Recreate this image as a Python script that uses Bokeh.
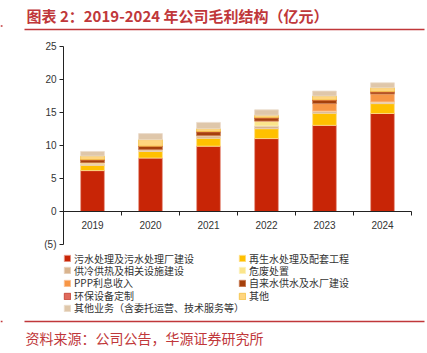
from bokeh.plotting import figure
from bokeh.models import (Range1d, LinearAxis, FixedTicker,
                          Legend, LegendItem, ColumnDataSource)
from bokeh.embed import file_html
from bokeh.resources import INLINE
from bokeh.core.properties import value

# ---------------- data (亿元) ----------------
years = ["2019", "2020", "2021", "2022", "2023", "2024"]
sewage     = [6.2, 8.1, 9.9, 11.05, 13.05, 14.85]   # 污水处理及污水处理厂建设
reclaimed  = [0.8, 1.0, 1.2, 1.5, 1.85, 1.5]        # 再生水处理及配套工程
heating    = [0.2, 0.25, 0.35, 0.4, 0.3, 0.25]      # 供冷供热及相关设施建设
hazardous  = [0.2, 0.05, 0.05, 0.75, 0.0, 0.0]      # 危废处置
ppp        = [0.0, 0.0, 0.0, 0.0, 1.15, 1.2]        # PPP利息收入
tap_water  = [0.4, 0.45, 0.55, 0.45, 0.5, 0.3]      # 自来水供水及水厂建设
equipment  = [0.05, 0.05, 0.05, 0.05, 0.05, 0.05]   # 环保设备定制
others     = [0.55, 1.0, 0.45, 0.4, 0.6, 0.6]       # 其他
other_biz  = [0.7, 0.9, 0.95, 0.8, 0.75, 0.75]      # 其他业务（含委托运营、技术服务等）

series_keys = ["sewage", "reclaimed", "heating", "hazardous", "ppp",
               "tap_water", "equipment", "others", "other_biz"]
series_labels = ["污水处理及污水处理厂建设", "再生水处理及配套工程", "供冷供热及相关设施建设",
                 "危废处置", "PPP利息收入", "自来水供水及水厂建设", "环保设备定制", "其他",
                 "其他业务（含委托运营、技术服务等）"]
y_ticks = [-5, 0, 5, 10, 15, 20, 25]
y_min, y_max = -5, 25

title_text = "图表 2：2019-2024 年公司毛利结构（亿元）"
source_text = "资料来源：公司公告，华源证券研究所"

# ---------------- styles / layout (pixels) ----------------
RED = "#C0373A"
fills = ["#C82506", "#FFC000", "#D9B48E", "#FBE58C", "#F79646",
         "#A5400C", "#E06A5C", "#FFD57F", "#DFC7AA"]
lines = ["#E8A090", "#FFE08A", "#E8D2BC", "#FDF1C0", "#FBC49A",
         "#C87A50", "#C0392B", "#F2C040", "#EBDCCB"]
CJK = "Noto Sans CJK SC"
W, H = 427, 353
PLOT_L, PLOT_R = 63, 411      # axis box, pixels
PLOT_T, PLOT_B = 46, 244
LEG_COL_X = [63, 238]
LEG_ROW_Y = [258.5, 270.8, 283, 296, 308.3]
LEG_ITEM_H = 14

n = len(years)
slot_px = (PLOT_R - PLOT_L) / n
x0 = -PLOT_L / slot_px
x1 = x0 + W / slot_px
unit_px = (PLOT_B - PLOT_T) / (y_max - y_min)
y1 = y_max + PLOT_T / unit_px
y0 = y1 - H / unit_px

def dx(px):
    return x0 + px / slot_px

def dy(py):
    return y1 - py / unit_px

p = figure(width=W, height=H, x_range=Range1d(x0, x1), y_range=Range1d(y0, y1),
           toolbar_location=None, output_backend="svg", min_border=0,
           x_axis_location=None, y_axis_location=None, outline_line_color=None)
p.grid.visible = False

# ---------------- bars ----------------
centers = [i + 0.5 for i in range(n)]
data = dict(xc=centers, sewage=sewage, reclaimed=reclaimed, heating=heating,
            hazardous=hazardous, ppp=ppp, tap_water=tap_water, equipment=equipment,
            others=others, other_biz=other_biz)
src = ColumnDataSource(data)
rs = p.vbar_stack(series_keys, x="xc", width=0.41, source=src,
                  fill_color=fills, line_color=lines, line_width=0.8)

# ---------------- axes ----------------
yaxis = LinearAxis(fixed_location=0, bounds=(y_min, y_max),
                   ticker=FixedTicker(ticks=y_ticks),
                   major_label_overrides={-5: "(5)"})
yaxis.axis_line_color = "#222222"
yaxis.major_tick_line_color = "#222222"
yaxis.major_tick_in = 0
yaxis.major_tick_out = 4
yaxis.minor_tick_line_color = None
yaxis.major_label_text_font = "Liberation Sans"
yaxis.major_label_text_font_size = "10px"
yaxis.major_label_text_color = "#333333"
yaxis.major_label_standoff = 3
p.add_layout(yaxis, "left")

xaxis = LinearAxis(fixed_location=0, bounds=(0, n), ticker=FixedTicker(ticks=centers),
                   major_label_overrides={c: y for c, y in zip(centers, years)})
xaxis.axis_line_color = "#222222"
xaxis.major_tick_line_color = None
xaxis.minor_tick_line_color = None
xaxis.major_label_text_font = "Liberation Sans"
xaxis.major_label_text_font_size = "10px"
xaxis.major_label_text_color = "#333333"
xaxis.major_label_standoff = 3
p.add_layout(xaxis, "below")

tick_axis = LinearAxis(fixed_location=0, bounds=(0, n),
                       ticker=FixedTicker(ticks=list(range(1, n + 1))))
tick_axis.axis_line_color = None
tick_axis.major_tick_line_color = "#222222"
tick_axis.major_tick_in = 0
tick_axis.major_tick_out = 4
tick_axis.minor_tick_line_color = None
tick_axis.major_label_text_color = None
p.add_layout(tick_axis, "below")

# ---------------- legend (two columns, one entry per row) ----------------
left_col = [0, 2, 4, 6, 8]
right_col = [1, 3, 5, 7]

def add_entry(i, col, row):
    lg = Legend(items=[LegendItem(label=series_labels[i], renderers=[rs[i]])],
                location=(LEG_COL_X[col], H - (LEG_ROW_Y[row] + LEG_ITEM_H / 2)))
    lg.padding = 0
    lg.margin = 0
    lg.spacing = 0
    lg.border_line_color = None
    lg.background_fill_alpha = 0
    lg.glyph_width = 8
    lg.glyph_height = 8
    lg.label_standoff = 3
    lg.label_height = LEG_ITEM_H
    lg.label_text_font = CJK
    lg.label_text_font_size = "10px"
    lg.label_text_color = "#333333"
    p.add_layout(lg)

for r, i in enumerate(left_col):
    add_entry(i, 0, r)
for r, i in enumerate(right_col):
    add_entry(i, 1, r)

# ---------------- title, rules, source ----------------
p.text(x=[dx(26)], y=[dy(15)], text=[title_text], text_font=value(CJK),
       text_font_style="bold", text_font_size="15px", text_color=RED,
       text_baseline="middle", text_align="left")
p.segment(x0=[dx(24), dx(24), dx(0), dx(0)], y0=[dy(29), dy(321), dy(25.5), dy(321)],
          x1=[dx(424), dx(424), dx(2), dx(2)], y1=[dy(29), dy(321), dy(25.5), dy(321)],
          line_color=RED, line_width=1.5)
p.text(x=[dx(25)], y=[dy(337)], text=[source_text], text_font=value(CJK),
       text_font_size="14px", text_color=RED, text_baseline="middle",
       text_align="left")

open("out.html", "w").write(file_html(p, INLINE))
